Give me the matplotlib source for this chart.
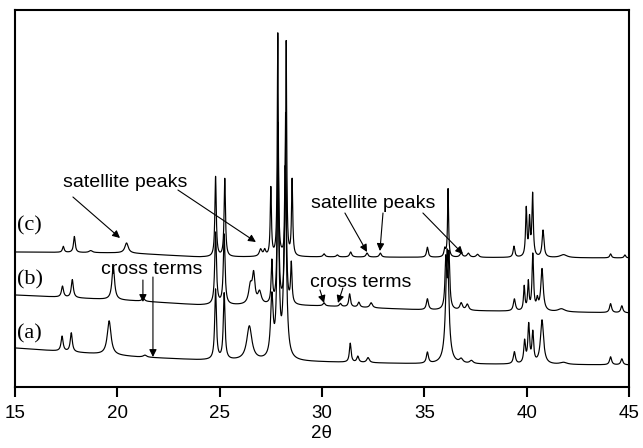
"""XRD patterns (a)-(c) with satellite peaks and cross terms marked."""
import matplotlib.pyplot as plt
import numpy as np

# peak lists: position (2theta), height, FWHM
pos_a = [17.3, 17.75, 19.6, 21.35, 24.8, 25.22, 26.45, 27.55, 27.85, 28.2,
         31.38, 31.75, 32.25, 35.15, 36.12, 36.8, 37.3, 39.4, 39.9, 40.1,
         40.3, 40.75, 41.8, 44.1, 44.65]
amp_a = [15, 19, 34, 2, 70, 66, 34, 60, 170, 190,
         19, 6, 5, 11, 115, 4, 3, 12, 22, 38,
         30, 44, 2, 8, 6]
fwhm_a = [0.12, 0.12, 0.22, 0.2, 0.1, 0.1, 0.3, 0.15, 0.12, 0.14,
          0.1, 0.12, 0.15, 0.12, 0.18, 0.2, 0.2, 0.12, 0.1, 0.1,
          0.1, 0.18, 0.4, 0.12, 0.12]

pos_b = [17.32, 17.8, 19.8, 21.27, 24.8, 25.22, 26.5, 26.66, 26.95, 27.55,
         27.85, 28.22, 28.5, 30.1, 30.9, 31.35, 31.8, 32.4, 35.15, 36.05,
         36.2, 36.8, 37.1, 39.4, 39.88, 40.08, 40.3, 40.52, 40.75, 41.7,
         44.1, 44.65]
amp_b = [11, 18, 34, 3, 72, 70, 18, 28, 12, 42,
         180, 190, 40, 3, 3, 13, 5, 5, 11, 50,
         55, 7, 6, 12, 24, 28, 56, 10, 42, 3,
         9, 7]
fwhm_b = [0.12, 0.12, 0.15, 0.15, 0.1, 0.1, 0.2, 0.15, 0.2, 0.08,
          0.08, 0.08, 0.08, 0.12, 0.12, 0.1, 0.12, 0.15, 0.12, 0.1,
          0.1, 0.15, 0.15, 0.12, 0.08, 0.08, 0.09, 0.1, 0.14, 0.4,
          0.12, 0.12]

pos_c = [17.36, 17.9, 18.7, 20.45, 24.8, 25.25, 27.0, 27.2, 27.5, 27.84,
         28.25, 28.54, 30.1, 30.75, 31.4, 32.2, 32.85, 35.15, 36.0, 36.16,
         36.8, 37.15, 37.6, 39.38, 39.98, 40.14, 40.29, 40.8, 41.8, 44.1,
         44.8]
amp_c = [6, 16, 2, 10, 80, 78, 7, 6, 68, 222,
         214, 76, 3, 2, 5, 4, 4, 10, 8, 68,
         4, 4, 3, 11, 48, 36, 62, 27, 3, 4,
         3]
fwhm_c = [0.1, 0.1, 0.2, 0.2, 0.08, 0.08, 0.15, 0.12, 0.07, 0.06,
          0.06, 0.07, 0.12, 0.12, 0.12, 0.12, 0.12, 0.1, 0.1, 0.06,
          0.15, 0.15, 0.15, 0.1, 0.08, 0.08, 0.08, 0.11, 0.4, 0.1,
          0.1]

# background knots (2theta, level) for each stacked trace
bg_x_a = [15, 21, 24, 30, 35, 45]
bg_y_a = [39, 30, 27, 25, 23, 22]
bg_x_b = [15, 21, 24, 30, 35, 38, 45]
bg_y_b = [92, 86, 82, 81, 77, 76, 74]
bg_x_c = [15, 20.5, 24, 30, 45]
bg_y_c = [135, 134, 130, 130, 129]


def pattern(tt, pos, amp, fwhm, bg_x, bg_y):
    y = np.interp(tt, bg_x, bg_y)
    for p, a, w in zip(pos, amp, fwhm):
        y = y + a / (1 + ((tt - p) / (w / 2)) ** 2)
    return y


tt = np.arange(15, 45.0001, 0.005)

fig = plt.figure(figsize=(6.43, 4.48), dpi=100)
ax = fig.add_axes([15 / 643, 61 / 448, 614 / 643, 377 / 448])

for pos, amp, fwhm, bx, by in [
    (pos_a, amp_a, fwhm_a, bg_x_a, bg_y_a),
    (pos_b, amp_b, fwhm_b, bg_x_b, bg_y_b),
    (pos_c, amp_c, fwhm_c, bg_x_c, bg_y_c),
]:
    ax.plot(tt, pattern(tt, pos, amp, fwhm, bx, by), color="black", lw=0.85)

ax.set_xlim(15, 45)
ax.set_ylim(0, 377)
ax.set_yticks([])
ax.set_xticks([15, 20, 25, 30, 35, 40, 45])
ax.tick_params(axis="x", direction="out", length=7, width=1.5, labelsize=13.5, pad=6)
for lab in ax.get_xticklabels():
    lab.set_family("Liberation Sans")
for sp in ax.spines.values():
    sp.set_linewidth(1.5)
ax.set_xlabel("2θ", fontsize=13.5, family="Liberation Sans", labelpad=2)

serif = dict(family="Liberation Serif", fontsize=16, va="center", ha="left")
ax.text(15.1, 161, "(c)", **serif)
ax.text(15.1, 107, "(b)", **serif)
ax.text(15.1, 53, "(a)", **serif)

sans = dict(family="Liberation Sans", fontsize=14, va="center", ha="center")
ax.text(20.37, 205, "satellite peaks", **sans)
ax.text(32.49, 184, "satellite peaks", **sans)
ax.text(21.69, 118, "cross terms", **sans)
ax.text(31.9, 105, "cross terms", **sans)

arrows = [
    ((17.83, 190), (20.13, 149)),
    ((22.96, 197), (26.77, 145)),
    ((31.12, 174), (32.2, 135)),
    ((32.98, 174), (32.83, 136)),
    ((34.93, 174), (36.89, 133)),
    ((21.25, 107), (21.25, 85)),
    ((21.74, 110), (21.74, 30)),
    ((29.9, 97), (30.1, 84)),
    ((31.02, 99), (30.78, 84)),
]
for start, tip in arrows:
    ax.annotate("", xy=tip, xytext=start,
                arrowprops=dict(arrowstyle="-|>", color="black", lw=0.8,
                                mutation_scale=11, shrinkA=0, shrinkB=0))

fig.savefig("out.png", dpi=100)
